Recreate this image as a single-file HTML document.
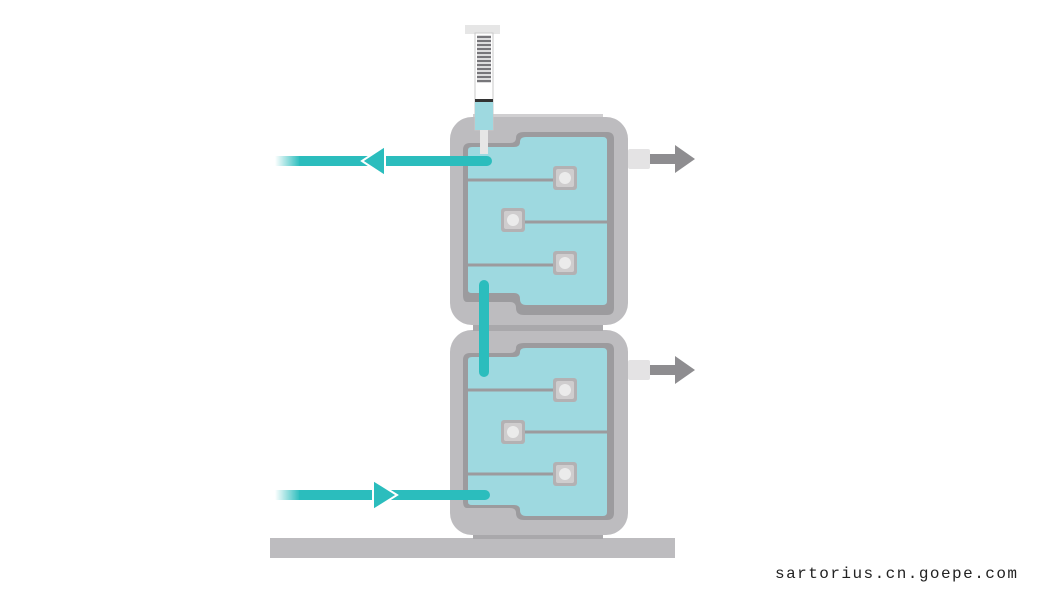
<!DOCTYPE html>
<html><head><meta charset="utf-8"><style>
html,body{margin:0;padding:0;background:#fff;}
svg{display:block}
</style></head><body>
<svg width="1050" height="590" viewBox="0 0 1050 590" xmlns="http://www.w3.org/2000/svg">
<defs>
<linearGradient id="fade" x1="0" x2="1" y1="0" y2="0">
<stop offset="0" stop-color="#2bbdbd" stop-opacity="0"/>
<stop offset="1" stop-color="#2bbdbd" stop-opacity="1"/>
</linearGradient>
<g id="sq">
<rect x="-12" y="-12" width="24" height="24" rx="3" fill="#b3b1b3"/>
<rect x="-9" y="-9" width="18" height="18" rx="2" fill="#cfcdce"/>
<circle r="6" fill="#ebebeb"/>
</g>
</defs>
<!-- base -->
<rect x="270" y="538" width="405" height="20" fill="#bdbcbf"/>
<rect x="473" y="530" width="130" height="9" fill="#a9a8ab"/>
<!-- top unit -->
<rect x="473" y="114" width="130" height="8" fill="#d0cfd1"/>
<rect x="450" y="117" width="178" height="208" rx="22" fill="#bdbcbf"/>
<path d="M463 150 q0-7 7-7 h40 q6 0 6-5 q0-6 8-6 h83 q7 0 7 7 v169 q0 7-7 7 h-83 q-8 0-8-7 q0-6-6-6 h-43 q-4 0-4-7 z" fill="#9c9b9e"/>
<path d="M468 150 q0-3 4-3 h42 q6 0 6-5 q0-5 6-5 h77 q4 0 4 4 v160 q0 4-4 4 h-77 q-6 0-6-6 q0-6-6-6 h-42 q-4 0-4-3 z" fill="#9ed9e0"/>
<g stroke="#9c9b9e" stroke-width="3">
<line x1="468" y1="180" x2="555" y2="180"/>
<line x1="513" y1="222" x2="607" y2="222"/>
<line x1="468" y1="265" x2="555" y2="265"/>
</g>
<use href="#sq" x="565" y="178"/>
<use href="#sq" x="513" y="220"/>
<use href="#sq" x="565" y="263"/>
<!-- bottom unit -->
<rect x="450" y="330" width="178" height="205" rx="22" fill="#bdbcbf"/>
<rect x="473" y="325" width="130" height="6" fill="#a9a8ab"/>
<path d="M463 360 q0-7 7-7 h40 q6 0 6-5 q0-5 8-5 h83 q7 0 7 7 v163 q0 7-7 7 h-83 q-8 0-8-7 q0-5-6-5 h-43 q-4 0-4-7 z" fill="#9c9b9e"/>
<path d="M468 360 q0-3 4-3 h42 q6 0 6-5 q0-4 6-4 h77 q4 0 4 4 v160 q0 4-4 4 h-77 q-6 0-6-6 q0-5-6-5 h-42 q-4 0-4-3 z" fill="#9ed9e0"/>
<g stroke="#9c9b9e" stroke-width="3">
<line x1="468" y1="390" x2="555" y2="390"/>
<line x1="513" y1="432" x2="607" y2="432"/>
<line x1="468" y1="474" x2="555" y2="474"/>
</g>
<use href="#sq" x="565" y="390"/>
<use href="#sq" x="513" y="432"/>
<use href="#sq" x="565" y="474"/>
<!-- side outlets -->
<rect x="628" y="149" width="22" height="20" rx="2" fill="#e4e3e4"/>
<path d="M650 154 h25 v-9 l20 14 -20 14 v-9 h-25 z" fill="#8e8d90"/>
<rect x="628" y="360" width="22" height="20" rx="2" fill="#e4e3e4"/>
<path d="M650 365 h25 v-9 l20 14 -20 14 v-9 h-25 z" fill="#8e8d90"/>
<!-- syringe -->
<rect x="465" y="25" width="35" height="9" fill="#e6e6e6"/>
<rect x="475" y="33" width="18" height="97" fill="#fff" stroke="#c9c9c9" stroke-width="1"/>
<g stroke="#77767a" stroke-width="2.5">
<line x1="477" y1="37" x2="491" y2="37"/><line x1="477" y1="41" x2="491" y2="41"/><line x1="477" y1="45" x2="491" y2="45"/><line x1="477" y1="49" x2="491" y2="49"/><line x1="477" y1="53" x2="491" y2="53"/><line x1="477" y1="57" x2="491" y2="57"/><line x1="477" y1="61" x2="491" y2="61"/><line x1="477" y1="65" x2="491" y2="65"/><line x1="477" y1="69" x2="491" y2="69"/><line x1="477" y1="73" x2="491" y2="73"/><line x1="477" y1="77" x2="491" y2="77"/><line x1="477" y1="81" x2="491" y2="81"/>
</g>
<rect x="475" y="99" width="18" height="3" fill="#333"/>
<rect x="475" y="102" width="18" height="28" fill="#9ed9e0"/>
<rect x="480" y="130" width="8" height="24" fill="#e6e6e6"/>
<!-- teal pipes -->
<rect x="275" y="156" width="25" height="10" fill="url(#fade)"/>
<path d="M299 156 H487 a5 5 0 0 1 0 10 H299 z" fill="#2bbdbd"/>
<path d="M362 161 L385 146 V176 z" fill="#2bbdbd" stroke="#fff" stroke-width="2"/>
<path d="M479 285 a5 5 0 0 1 10 0 V372 a5 5 0 0 1 -10 0 z" fill="#2bbdbd"/>
<rect x="275" y="490" width="25" height="10" fill="url(#fade)"/>
<path d="M299 490 H485 a5 5 0 0 1 0 10 H299 z" fill="#2bbdbd"/>
<path d="M397 495 L373 480 V510 z" fill="#2bbdbd" stroke="#fff" stroke-width="2"/>
<text x="775" y="578" font-family="Liberation Mono, monospace" font-size="16" textLength="242" lengthAdjust="spacing" fill="#222">sartorius.cn.goepe.com</text>
</svg>
</body></html>
